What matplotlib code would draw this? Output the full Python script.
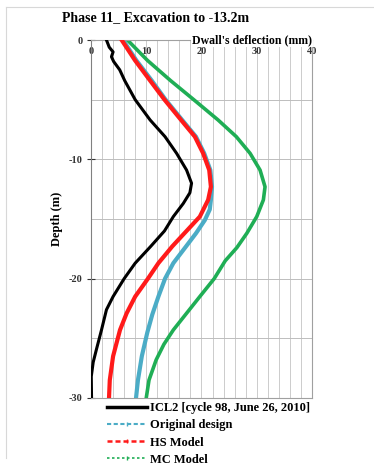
import numpy as np
import matplotlib
matplotlib.use("Agg")
import matplotlib.pyplot as plt
from matplotlib.lines import Line2D

# depth (m) and deflection (mm)
depth_icl2 = [0, -0.6, -1.0, -1.4, -1.8, -2.5, -3.4, -5.0, -6.7, -8.1, -9.5,
              -10.9, -12.0, -12.8, -13.7, -14.8, -16.0, -17.3, -18.7, -20.0,
              -21.5, -22.6, -24.3, -25.9, -27.0, -28.2, -30.0]
defl_icl2 = [2.8, 3.3, 4.0, 3.7, 4.1, 5.2, 6.1, 8.0, 10.7, 13.4, 15.5,
             17.3, 18.2, 17.9, 16.7, 14.9, 13.3, 10.8, 8.0, 6.0,
             4.0, 2.8, 1.9, 1.0, 0.4, 0.05, 0.1]

depth_hs = [0, -1.7, -3.4, -5.0, -6.7, -8.1, -9.5, -10.9, -12.3, -13.4, -14.8,
            -16.0, -17.3, -18.7, -20.0, -21.5, -22.9, -24.3, -26.5, -28.5, -30.0]
defl_hs = [5.55, 7.96, 10.7, 13.3, 16.3, 18.8, 20.3, 21.4, 21.7, 21.2, 19.7,
           17.3, 14.7, 12.2, 10.3, 8.0, 6.45, 5.25, 4.0, 3.4, 3.26]

depth_orig = [0, -1.7, -3.4, -5.0, -6.7, -8.1, -9.5, -10.9, -12.3, -13.4,
              -14.2, -15.1, -16.2, -17.3, -18.7, -20.0, -21.5, -23.0, -24.5,
              -26.5, -28.5, -30.0]
defl_orig = [5.8, 8.2, 11.0, 13.5, 16.5, 19.0, 20.5, 21.6, 21.9, 21.7,
             21.5, 20.6, 19.0, 17.2, 14.9, 13.4, 12.2, 11.1, 10.2,
             9.2, 8.5, 8.15]

depth_mc = [0, -1.7, -3.4, -5.0, -6.7, -8.1, -9.5, -10.9, -12.3, -13.4, -14.8,
            -16.2, -17.4, -18.5, -20.0, -21.5, -22.9, -24.3, -25.5, -26.8,
            -28.5, -30.0]
defl_mc = [6.6, 10.2, 14.4, 18.6, 23.0, 26.3, 28.8, 30.6, 31.5, 31.2, 30.0,
           28.2, 26.4, 24.3, 22.3, 19.7, 17.3, 14.9, 13.2, 11.8,
           10.5, 10.0]

series_labels = ["ICL2 [cycle 98, June 26, 2010]", "Original design",
                 "HS Model", "MC Model"]

plt.rcParams['font.family'] = ['Liberation Serif', 'DejaVu Serif']
plt.rcParams['font.weight'] = 'bold'

fig = plt.figure(figsize=(3.74, 4.67), dpi=100)
ax = fig.add_axes([0.2433, 0.1478, 0.5909, 0.7665])

ax.set_xlim(0, 40)
ax.set_ylim(-30, 0)

# grid: every 2 mm horizontally, every 5 m vertically
for x in np.arange(2, 40, 2):
    ax.axvline(x, color='#cccccc', lw=0.7, zorder=0)
for y in np.arange(-25, 0, 5):
    ax.axhline(y, color='#bdbdbd', lw=0.7, zorder=0)

c_black = '#000000'
c_blue = '#4bacc6'
c_red = '#ff1a1a'
c_green = '#1fae55'

ax.plot(defl_orig, depth_orig, color=c_blue, lw=3.0, zorder=2,
        solid_joinstyle='round')
ax.plot(defl_mc, depth_mc, color=c_green, lw=2.6, zorder=2,
        solid_joinstyle='round')
ax.plot(defl_hs, depth_hs, color=c_red, lw=3.0, zorder=3,
        solid_joinstyle='round')
ax.plot(defl_icl2, depth_icl2, color=c_black, lw=2.2, zorder=4,
        solid_joinstyle='round')

for side in ['top', 'right', 'bottom']:
    ax.spines[side].set_color('#a0a0a0')
    ax.spines[side].set_linewidth(0.8)
ax.spines['left'].set_color('#808080')

ax.set_xticks([0, 10, 20, 30, 40])
ax.tick_params(axis='x', top=False, bottom=False, labelbottom=False,
               labeltop=True, pad=-15, labelsize=7.5, colors='#333333')
ax.set_yticks([0, -10, -20, -30])
ax.set_yticklabels(['0', '-10', '-20', '-30'])
ax.tick_params(axis='y', direction='inout', length=6, labelsize=7.5,
               colors='#333333', pad=3)

ax.text(1.0, 1.0, "Dwall's deflection (mm)", transform=ax.transAxes,
        ha='right', va='center', fontsize=8.5, fontweight='bold',
        bbox=dict(facecolor='white', edgecolor='none', pad=0.5))
ax.set_ylabel('Depth (m)', fontsize=9, fontweight='bold', labelpad=4)

fig.text(62 / 374, 1 - 18 / 467, 'Phase 11_ Excavation to -13.2m',
         fontsize=10, fontweight='bold', ha='left', va='center')

handles = [
    Line2D([], [], color=c_black, lw=2.5),
    Line2D([], [], color=c_blue, lw=1.5, linestyle=(0, (2, 1.2)),
           marker='|', markersize=3),
    Line2D([], [], color=c_red, lw=1.8, linestyle=(0, (2, 1.2)),
           marker='|', markersize=3),
    Line2D([], [], color=c_green, lw=1.2, linestyle=(0, (1.5, 1.5)),
           marker='|', markersize=3),
]
fig.legend(handles, series_labels, loc='upper left',
           bbox_to_anchor=(107 / 374, 1 - 402 / 467), frameon=False,
           fontsize=9, handlelength=3.2, handletextpad=0.25,
           labelspacing=0.42, borderaxespad=0, borderpad=0)

# faint outer frame (left and top)
fig.add_artist(Line2D([6 / 374, 6 / 374], [0.02, 1 - 7 / 467],
                      transform=fig.transFigure, color='#d8d8d8', lw=0.8))
fig.add_artist(Line2D([6 / 374, 1.0], [1 - 7 / 467, 1 - 7 / 467],
                      transform=fig.transFigure, color='#d8d8d8', lw=0.8))

fig.savefig('out.png', dpi=100)
